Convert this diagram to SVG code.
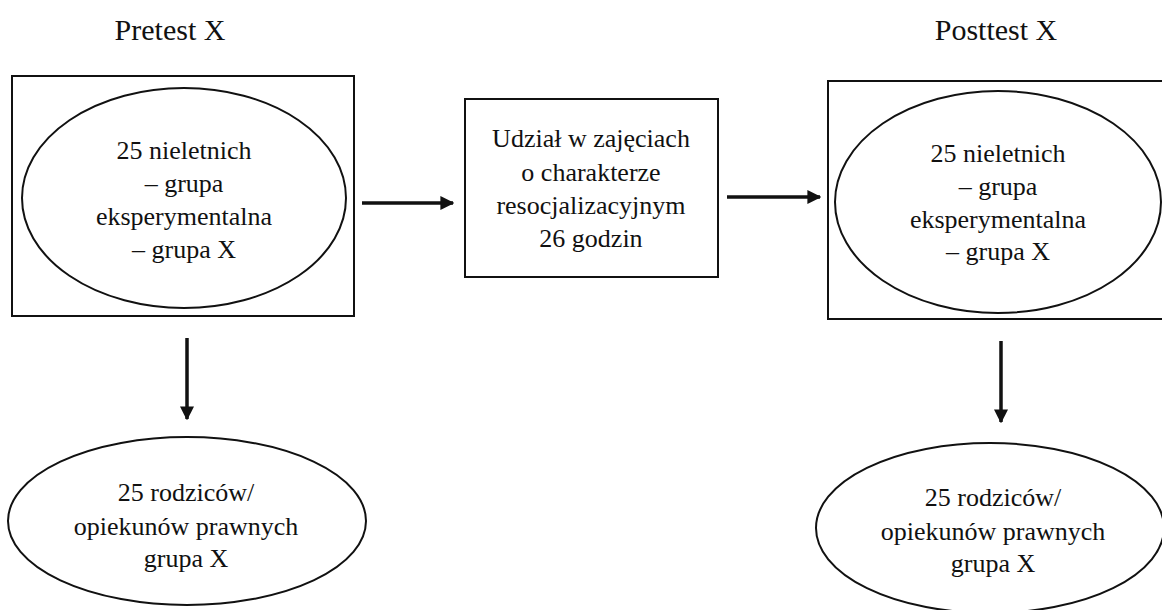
<svg xmlns="http://www.w3.org/2000/svg" width="1162" height="610" viewBox="0 0 1162 610">
<style>
text{font-family:"Liberation Serif","Times New Roman",serif;fill:#111;text-anchor:middle}
.t{font-size:26px}
.h{font-size:30px}
.s{fill:#fff;stroke:#111;stroke-width:2}
.c{stroke:#111;stroke-width:3.5;fill:none}
</style>
<defs>
<marker id="ah" viewBox="0 0 10 10" refX="9" refY="5" markerWidth="4" markerHeight="4" orient="auto" markerUnits="strokeWidth">
<path d="M0,0 L10,5 L0,10 z" fill="#111"/>
</marker>
</defs>
<rect width="1162" height="610" fill="#fff"/>
<text class="h" x="170" y="40">Pretest X</text>
<text class="h" x="996" y="40">Posttest X</text>
<g id="pre">
<rect class="s" x="12" y="76" width="342" height="240"/>
<ellipse class="s" cx="184" cy="198" rx="162" ry="110"/>
<text class="t" x="184" y="159">25 nieletnich</text>
<text class="t" x="184" y="192">– grupa</text>
<text class="t" x="184" y="225">eksperymentalna</text>
<text class="t" x="184" y="258">– grupa X</text>
</g>
<g id="mid">
<rect class="s" x="465" y="99" width="253" height="178"/>
<text class="t" x="591" y="147">Udział w zajęciach</text>
<text class="t" x="591" y="181">o charakterze</text>
<text class="t" x="591" y="214">resocjalizacyjnym</text>
<text class="t" x="591" y="247">26 godzin</text>
</g>
<g id="post">
<rect class="s" x="828" y="81" width="340" height="238"/>
<ellipse class="s" cx="998" cy="202" rx="163" ry="111"/>
<text class="t" x="998" y="162">25 nieletnich</text>
<text class="t" x="998" y="195">– grupa</text>
<text class="t" x="998" y="228">eksperymentalna</text>
<text class="t" x="998" y="260">– grupa X</text>
</g>
<g id="par1">
<ellipse class="s" cx="187" cy="521" rx="179" ry="84"/>
<text class="t" x="186" y="501">25 rodziców/</text>
<text class="t" x="186" y="535">opiekunów prawnych</text>
<text class="t" x="186" y="567">grupa X</text>
</g>
<g id="par2">
<ellipse class="s" cx="990" cy="528" rx="174" ry="85"/>
<text class="t" x="993" y="506">25 rodziców/</text>
<text class="t" x="993" y="540">opiekunów prawnych</text>
<text class="t" x="993" y="572">grupa X</text>
</g>
<g id="connectors">
<line class="c" x1="362" y1="203" x2="453" y2="203" marker-end="url(#ah)"/>
<line class="c" x1="727" y1="197" x2="820" y2="197" marker-end="url(#ah)"/>
<line class="c" x1="187" y1="338" x2="187" y2="419" marker-end="url(#ah)"/>
<line class="c" x1="1001" y1="341" x2="1001" y2="422" marker-end="url(#ah)"/>
</g>
</svg>
